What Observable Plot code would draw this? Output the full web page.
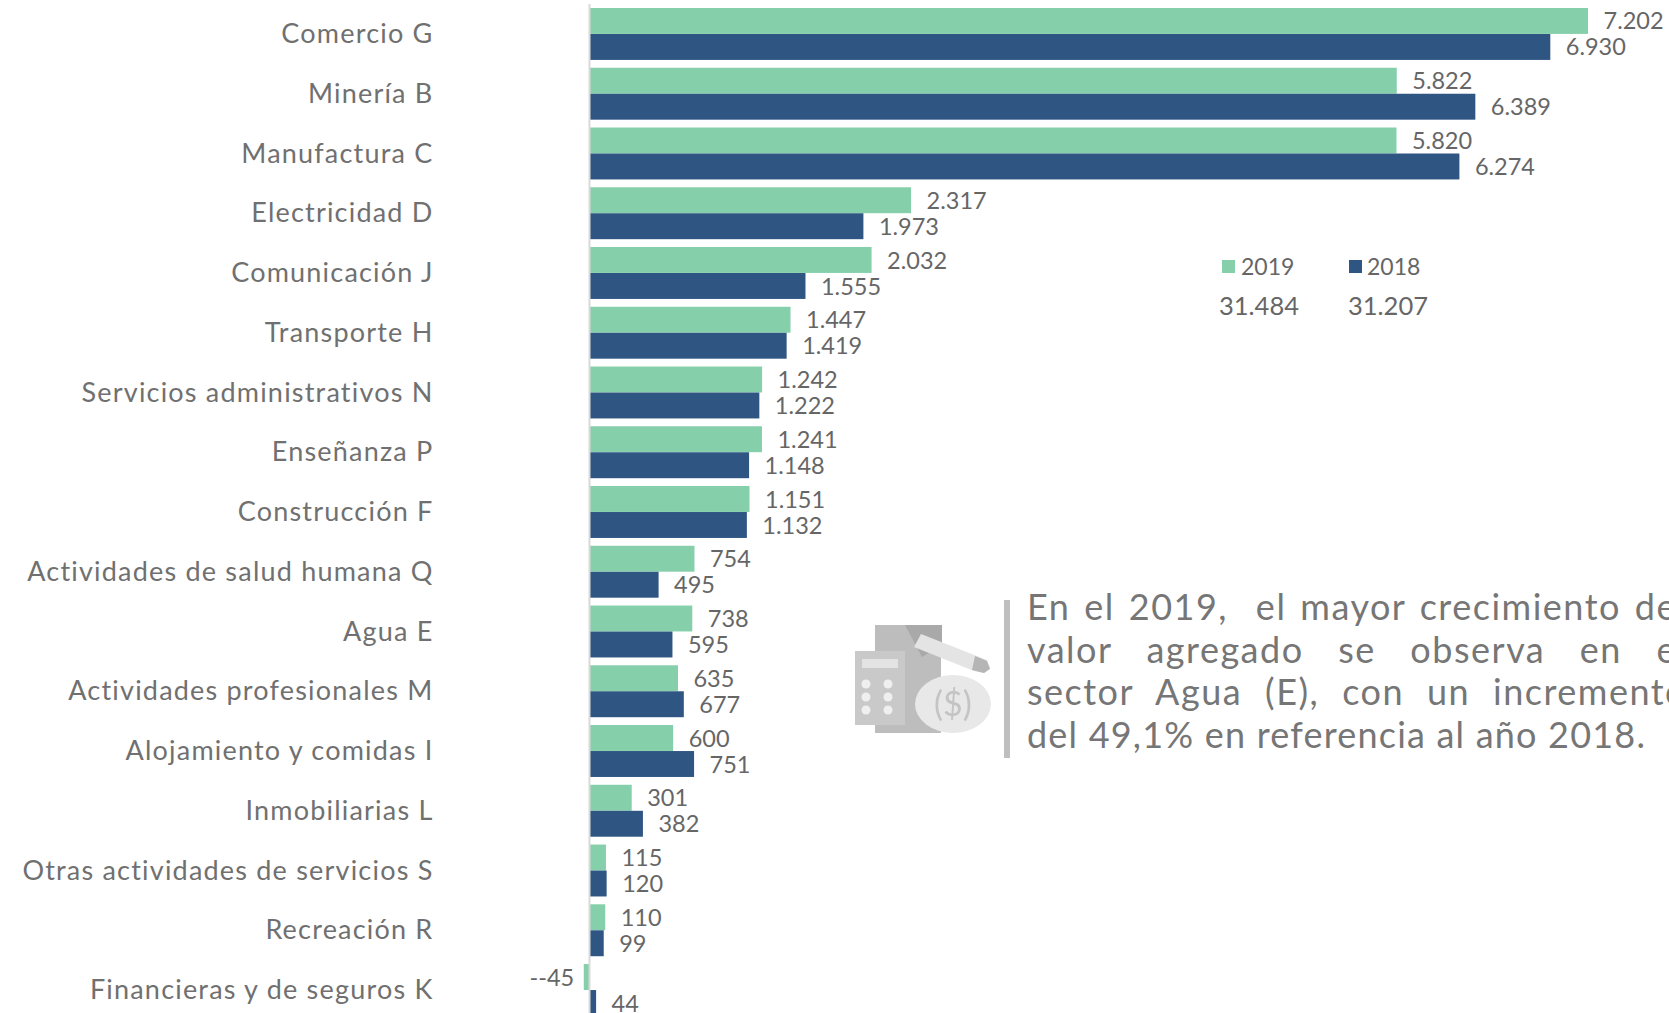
<!DOCTYPE html>
<html lang="es"><head><meta charset="utf-8">
<script src="https://cdn.jsdelivr.net/npm/d3@7"></script>
<script src="https://cdn.jsdelivr.net/npm/@observablehq/plot@0.6"></script>
<style>
html,body{margin:0;padding:0;background:#fff;width:1669px;height:1013px;overflow:hidden}
body{position:relative;font-family:Lato,sans-serif;color:#666}
svg.chart{position:absolute;left:0;top:0;font-family:Lato,sans-serif}
.abs{position:absolute;white-space:nowrap}
.line{position:absolute;left:1027px;width:660px;font-size:36px;line-height:42px;height:42px;letter-spacing:1.5px;color:#767676;text-align:justify;text-align-last:justify;white-space:normal}
.line.last{text-align-last:left;letter-spacing:1.2px}
</style></head><body>
<div id="c"></div>
<script>
const categories=["Comercio G","Minería B","Manufactura C","Electricidad D","Comunicación J","Transporte H","Servicios administrativos N","Enseñanza P","Construcción F","Actividades de salud humana Q","Agua E","Actividades profesionales M","Alojamiento y comidas I","Inmobiliarias L","Otras actividades de servicios S","Recreación R","Financieras y de seguros K"];
const values2019=[7202,5822,5820,2317,2032,1447,1242,1241,1151,754,738,635,600,301,115,110,-45];
const values2018=[6930,6389,6274,1973,1555,1419,1222,1148,1132,495,595,677,751,382,120,99,44];
const years=["2019","2018"];
const totals=["31.484","31.207"];
const noteLines=["En el 2019,&nbsp; el mayor crecimiento del","valor agregado se observa en el","sector Agua (E), con un incremento","del 49,1% en referencia al año 2018."];
const green="#85CFAB", blue="#2F5583", grey="#666666";
const fmt=v=>{const a=Math.abs(v),s=a>=1000?Math.floor(a/1000)+"."+String(a%1000).padStart(3,"0"):String(a);return v<0?"--"+s:s;};
const d19=categories.map((c,i)=>({c,v:values2019[i]}));
const d18=categories.map((c,i)=>({c,v:values2018[i]}));
const labelMark=(d,dy)=>[
 Plot.text(d.filter(r=>r.v>=0),{x:"v",y:"c",text:r=>fmt(r.v),dx:15,dy,textAnchor:"start",fill:grey,fontSize:23.5}),
 Plot.text(d.filter(r=>r.v<0),{x:"v",y:"c",text:r=>fmt(r.v),dx:-10,dy,textAnchor:"end",fill:grey,fontSize:23.5})
];
const chart=Plot.plot({
 width:1669,height:1013,marginLeft:433,marginTop:4,marginBottom:0,marginRight:0,
 x:{domain:[0,7202],range:[590,1588],axis:null},
 y:{domain:categories,range:[0.17,1023.8],padding:0.131,round:false,label:null},
 marks:[
  Plot.axisY({anchor:"left",tickSize:0,tickPadding:0,fontSize:27,color:"#707070",label:null}),
  Plot.barX(d19,{x:"v",y:"c",fill:green,insetBottom:26}),
  Plot.barX(d18,{x:"v",y:"c",fill:blue,insetTop:26}),
  Plot.ruleX([0],{stroke:"#d9d9d9",strokeWidth:2,dx:-1}),
  ...labelMark(d19,-12.5),
  ...labelMark(d18,13.5)
 ]
});
chart.classList.add("chart");
document.getElementById("c").appendChild(chart);
const cats=new Set(categories);
chart.querySelectorAll("text").forEach(t=>{if(cats.has(t.textContent))t.style.letterSpacing="1.2px";});
const add=(html)=>document.body.insertAdjacentHTML("beforeend",html);
const legendSw=[1222,1349],legendTx=[1241,1367],totalX=[1219,1348];
years.forEach((y,i)=>{
 add(`<div class="abs" style="left:${legendSw[i]}px;top:260px;width:13px;height:13px;background:${i?blue:green}"></div>`);
 add(`<div class="abs" style="left:${legendTx[i]}px;top:251px;font-size:23px;line-height:30px">${y}</div>`);
 add(`<div class="abs" style="left:${totalX[i]}px;top:289px;font-size:25.5px;line-height:32px">${totals[i]}</div>`);
});
add(`<div class="abs" style="left:1004px;top:600px;width:6px;height:158px;background:#bfbfbf"></div>`);
noteLines.forEach((t,i)=>add(`<div class="line${i==3?" last":""}" style="top:${585+i*42.6}px">${t}</div>`));
add(`<svg class="abs" style="left:850px;top:620px;filter:blur(.6px)" width="150" height="120" viewBox="850 620 150 120">
<rect x="875" y="625" width="66" height="108" fill="#bdbdbd"/>
<path d="M905 625h37v20l-20 12z" fill="#a9a9a9"/>
<rect x="855" y="651" width="50" height="74" fill="#c9c9c9"/>
<rect x="862" y="659" width="36" height="9" fill="#e3e3e3"/>
<g fill="#efefef"><circle cx="866" cy="684" r="4.5"/><circle cx="888" cy="684" r="4.5"/><circle cx="866" cy="697" r="4.5"/><circle cx="888" cy="697" r="4.5"/><circle cx="866" cy="710" r="4.5"/><circle cx="888" cy="710" r="4.5"/></g>
<path d="M921 634l66 26l3 8l-6 5l-10 -2l-60 -24z" fill="#e4e4e4"/>
<path d="M975 656l12 5l3 8l-6 4l-12 -3z" fill="#b5b5b5"/>
<ellipse cx="953" cy="704" rx="38" ry="29" fill="#e8e8e8"/>
<text x="953" y="716" text-anchor="middle" font-size="34" fill="#c4c4c4" font-family="Lato">($)</text>
</svg>`);
</script>
</body></html>
